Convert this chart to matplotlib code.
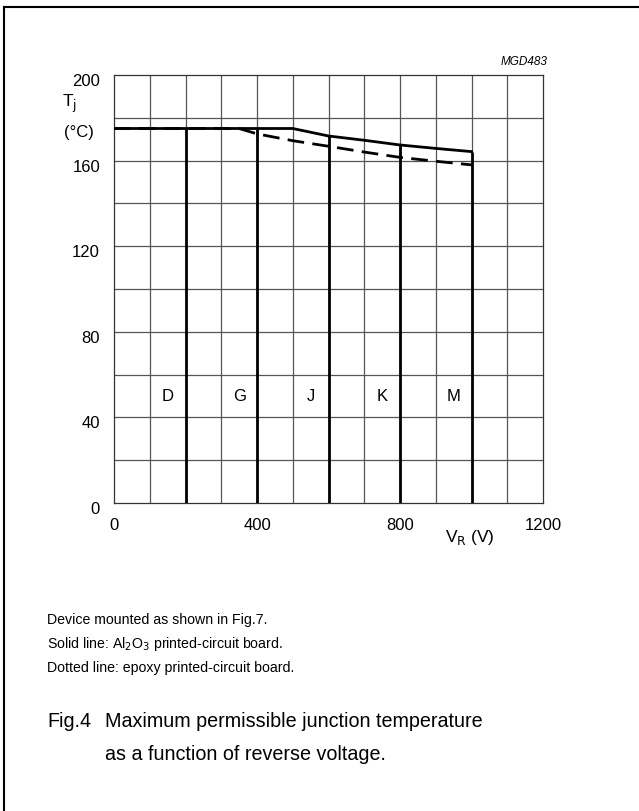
import matplotlib
matplotlib.use("Agg")
import matplotlib.pyplot as plt
from matplotlib.lines import Line2D
from matplotlib.transforms import ScaledTranslation

plt.rcParams['font.family'] = ['Liberation Sans', 'DejaVu Sans']

# Data
solid_v = [0, 500, 600, 700, 800, 900, 1000]
solid_t = [175, 175, 171.5, 169.5, 167.3, 165.7, 164.2]
dashed_v = [0, 350, 400, 500, 600, 700, 800, 900, 1000]
dashed_t = [175, 175, 172.5, 169.3, 166.7, 164.0, 161.5, 159.7, 158.0]
limit_v = [200, 400, 600, 800, 1000]
limit_t = [175, 175, 171.5, 167.3, 164.2]
grade_labels = ['D', 'G', 'J', 'K', 'M']
grade_x = [150, 350, 550, 750, 950]
grade_y = 50
xticks = [0, 400, 800, 1200]
yticks = [0, 40, 80, 120, 160, 200]

W, H = 639, 812
fig = plt.figure(figsize=(W/100, H/100), dpi=100)
ax = fig.add_axes([114/W, 1-504/H, 429/W, 428/H])
ax.set_xlim(0, 1200)
ax.set_ylim(0, 200)

for x in range(100, 1200, 100):
    ax.axvline(x, color='#555555', lw=0.9, zorder=1)
for y in range(20, 200, 20):
    ax.axhline(y, color='#555555', lw=0.9, zorder=1)

for v, t in zip(limit_v, limit_t):
    ax.plot([v, v], [0, t], color='black', lw=2.0, zorder=3, solid_capstyle='butt')

ax.plot(solid_v, solid_t, color='black', lw=2.0, zorder=4)
ax.plot(dashed_v, dashed_t, color='black', lw=2.0, zorder=4, dashes=(6, 3))

for lab, x in zip(grade_labels, grade_x):
    ax.text(x, grade_y, lab, ha='center', va='center', fontsize=12)

ax.set_xticks(xticks)
ax.set_yticks(yticks)
ax.tick_params(length=0, labelsize=12)
ax.tick_params(axis='x', pad=10)
ax.tick_params(axis='y', pad=10)
off = ScaledTranslation(0, -4/100, fig.dpi_scale_trans)
for lab in ax.get_yticklabels():
    lab.set_transform(lab.get_transform() + off)
for s in ax.spines.values():
    s.set_linewidth(0.9)
    s.set_color('#333333')

# axis labels
fig.text(70/W, 1-104/H, r'T$_{\rm j}$', fontsize=12.5, ha='center', va='center')
fig.text(94/W, 1-133/H, '(°C)', fontsize=12, ha='right', va='center')
fig.text(470/W, 1-542/H, r'V$_{\rm R}$ (V)', fontsize=12.5, ha='center', va='baseline')
fig.text(548/W, 1-62/H, 'MGD483', fontsize=8.5, style='italic', ha='right', va='center')

# notes
notes = ['Device mounted as shown in Fig.7.',
         r'Solid line: Al$_2$O$_3$ printed-circuit board.',
         'Dotted line: epoxy printed-circuit board.']
for i, n in enumerate(notes):
    fig.text(47/W, 1-(620+24*i)/H, n, fontsize=10.2, ha='left', va='center')

fig.text(47/W, 1-722/H, 'Fig.4', fontsize=14.2, ha='left', va='center')
fig.text(105/W, 1-722/H, 'Maximum permissible junction temperature', fontsize=14.2, ha='left', va='center')
fig.text(105/W, 1-755/H, 'as a function of reverse voltage.', fontsize=14.2, ha='left', va='center')

# border (top & left)
fig.add_artist(Line2D([4/W, 4/W], [0, 1-8/H], transform=fig.transFigure, color='black', lw=1.5))
fig.add_artist(Line2D([4/W, 1], [1-8/H, 1-8/H], transform=fig.transFigure, color='black', lw=1.5))

fig.savefig('out.png', dpi=100)
